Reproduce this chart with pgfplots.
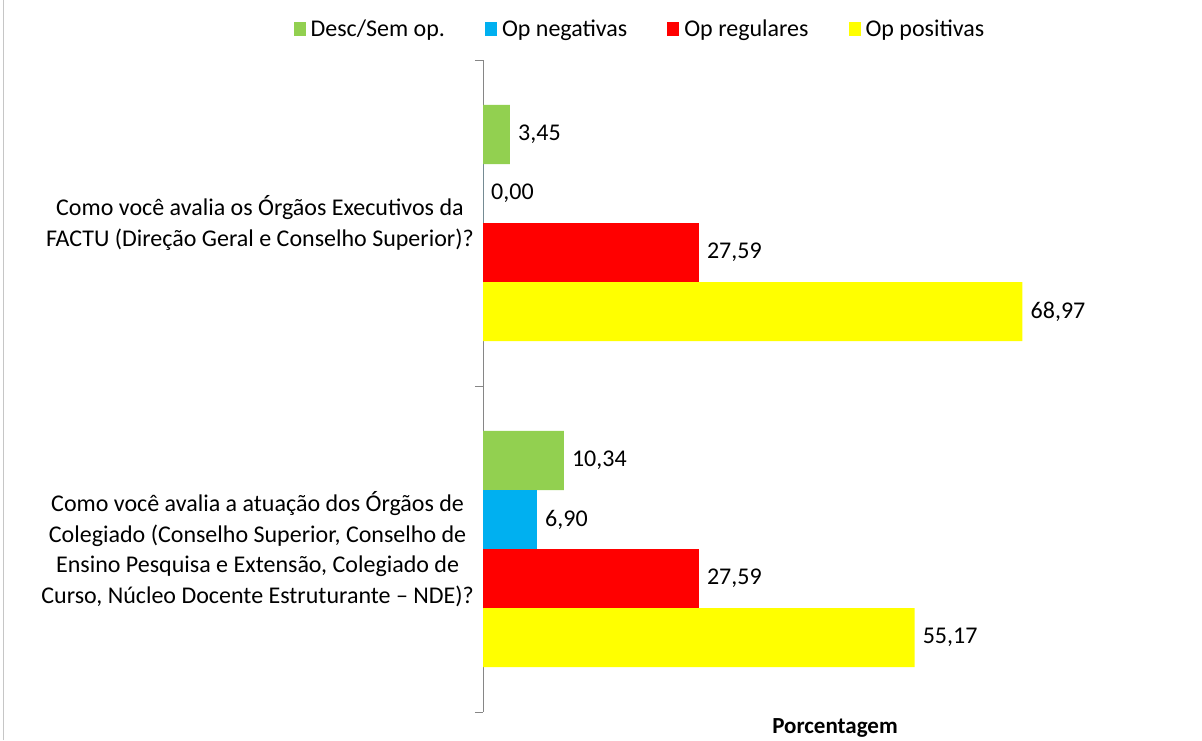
\documentclass[border=0pt]{standalone}
\usepackage{pgfplots}
\pgfplotsset{compat=1.18}
\usepackage{fontspec}
\setmainfont{Carlito}
\definecolor{cgreen}{HTML}{92D050}
\definecolor{cblue}{HTML}{00B0F0}
\definecolor{cred}{HTML}{FF0000}
\definecolor{cyellow}{HTML}{FFFF00}
\definecolor{axisgray}{HTML}{868686}
\begin{document}
\begin{tikzpicture}[x=1pt,y=1pt,font=\fontsize{24pt}{30pt}\selectfont]
\path[use as bounding box] (0,0) rectangle (1202,740);
\draw[gray!45, line width=1.2pt] (3.5,0) -- (3.5,740);
\begin{axis}[
  at={(483pt,28pt)}, anchor=south west,
  scale only axis, width=704pt, height=652pt,
  xbar, xmin=0, xmax=90, ymin=-0.5, ymax=1.5, y dir=reverse,
  bar width=0.181,
  axis x line=none, axis y line*=left,
  y axis line style={draw=axisgray, line width=1pt, -},
  ytick={0,1},
  yticklabels={{Como você avalia os Órgãos Executivos da\\FACTU (Direção Geral e Conselho Superior)?},
               {Como você avalia a atuação dos Órgãos de\\Colegiado (Conselho Superior, Conselho de\\Ensino Pesquisa e Extensão, Colegiado de\\Curso, Núcleo Docente Estruturante -- NDE)?}},
  major tick length=0pt,
  minor ytick={-0.5,0.5,1.5}, minor tick length=8pt, tick align=outside,
  minor tick style={draw=axisgray, line width=1pt},
  yticklabel style={align=center, anchor=east, inner sep=0pt, xshift=-9pt, font=\fontsize{24pt}{30.5pt}\selectfont},
  /pgf/number format/.cd, fixed, fixed zerofill, precision=2, use comma, assume math mode=true,
  /pgfplots/.cd,
  nodes near coords,
  every node near coord/.append style={anchor=west, inner sep=0pt, xshift=8pt, text=black, font=\fontsize{24pt}{30pt}\selectfont},
  legend style={at={(0.223,1.0475)}, anchor=center, draw=none, fill=none,
    legend columns=4, font=\fontsize{24pt}{30pt}\selectfont,
    /tikz/every odd column/.append style={column sep=3pt},
    /tikz/every even column/.append style={column sep=38pt},
    legend cell align=left},
  legend image code/.code={\fill[#1,draw=none] (0pt,-7pt) rectangle (12pt,7pt);},
]
\addplot[fill=cgreen, draw=none, bar shift=-0.2715] coordinates {(3.45,0) (10.34,1)};
\addplot[fill=cblue, draw=none, bar shift=-0.0905] coordinates {(0.00,0) (6.90,1)};
\addplot[fill=cred, draw=none, bar shift=0.0905] coordinates {(27.59,0) (27.59,1)};
\addplot[fill=cyellow, draw=none, bar shift=0.2715] coordinates {(68.97,0) (55.17,1)};
\legend{Desc/Sem op., Op negativas, Op regulares, Op positivas}
\end{axis}
\node[anchor=base, font=\bfseries\fontsize{23pt}{28pt}\selectfont] at (835,7) {Porcentagem};
\end{tikzpicture}
\end{document}
